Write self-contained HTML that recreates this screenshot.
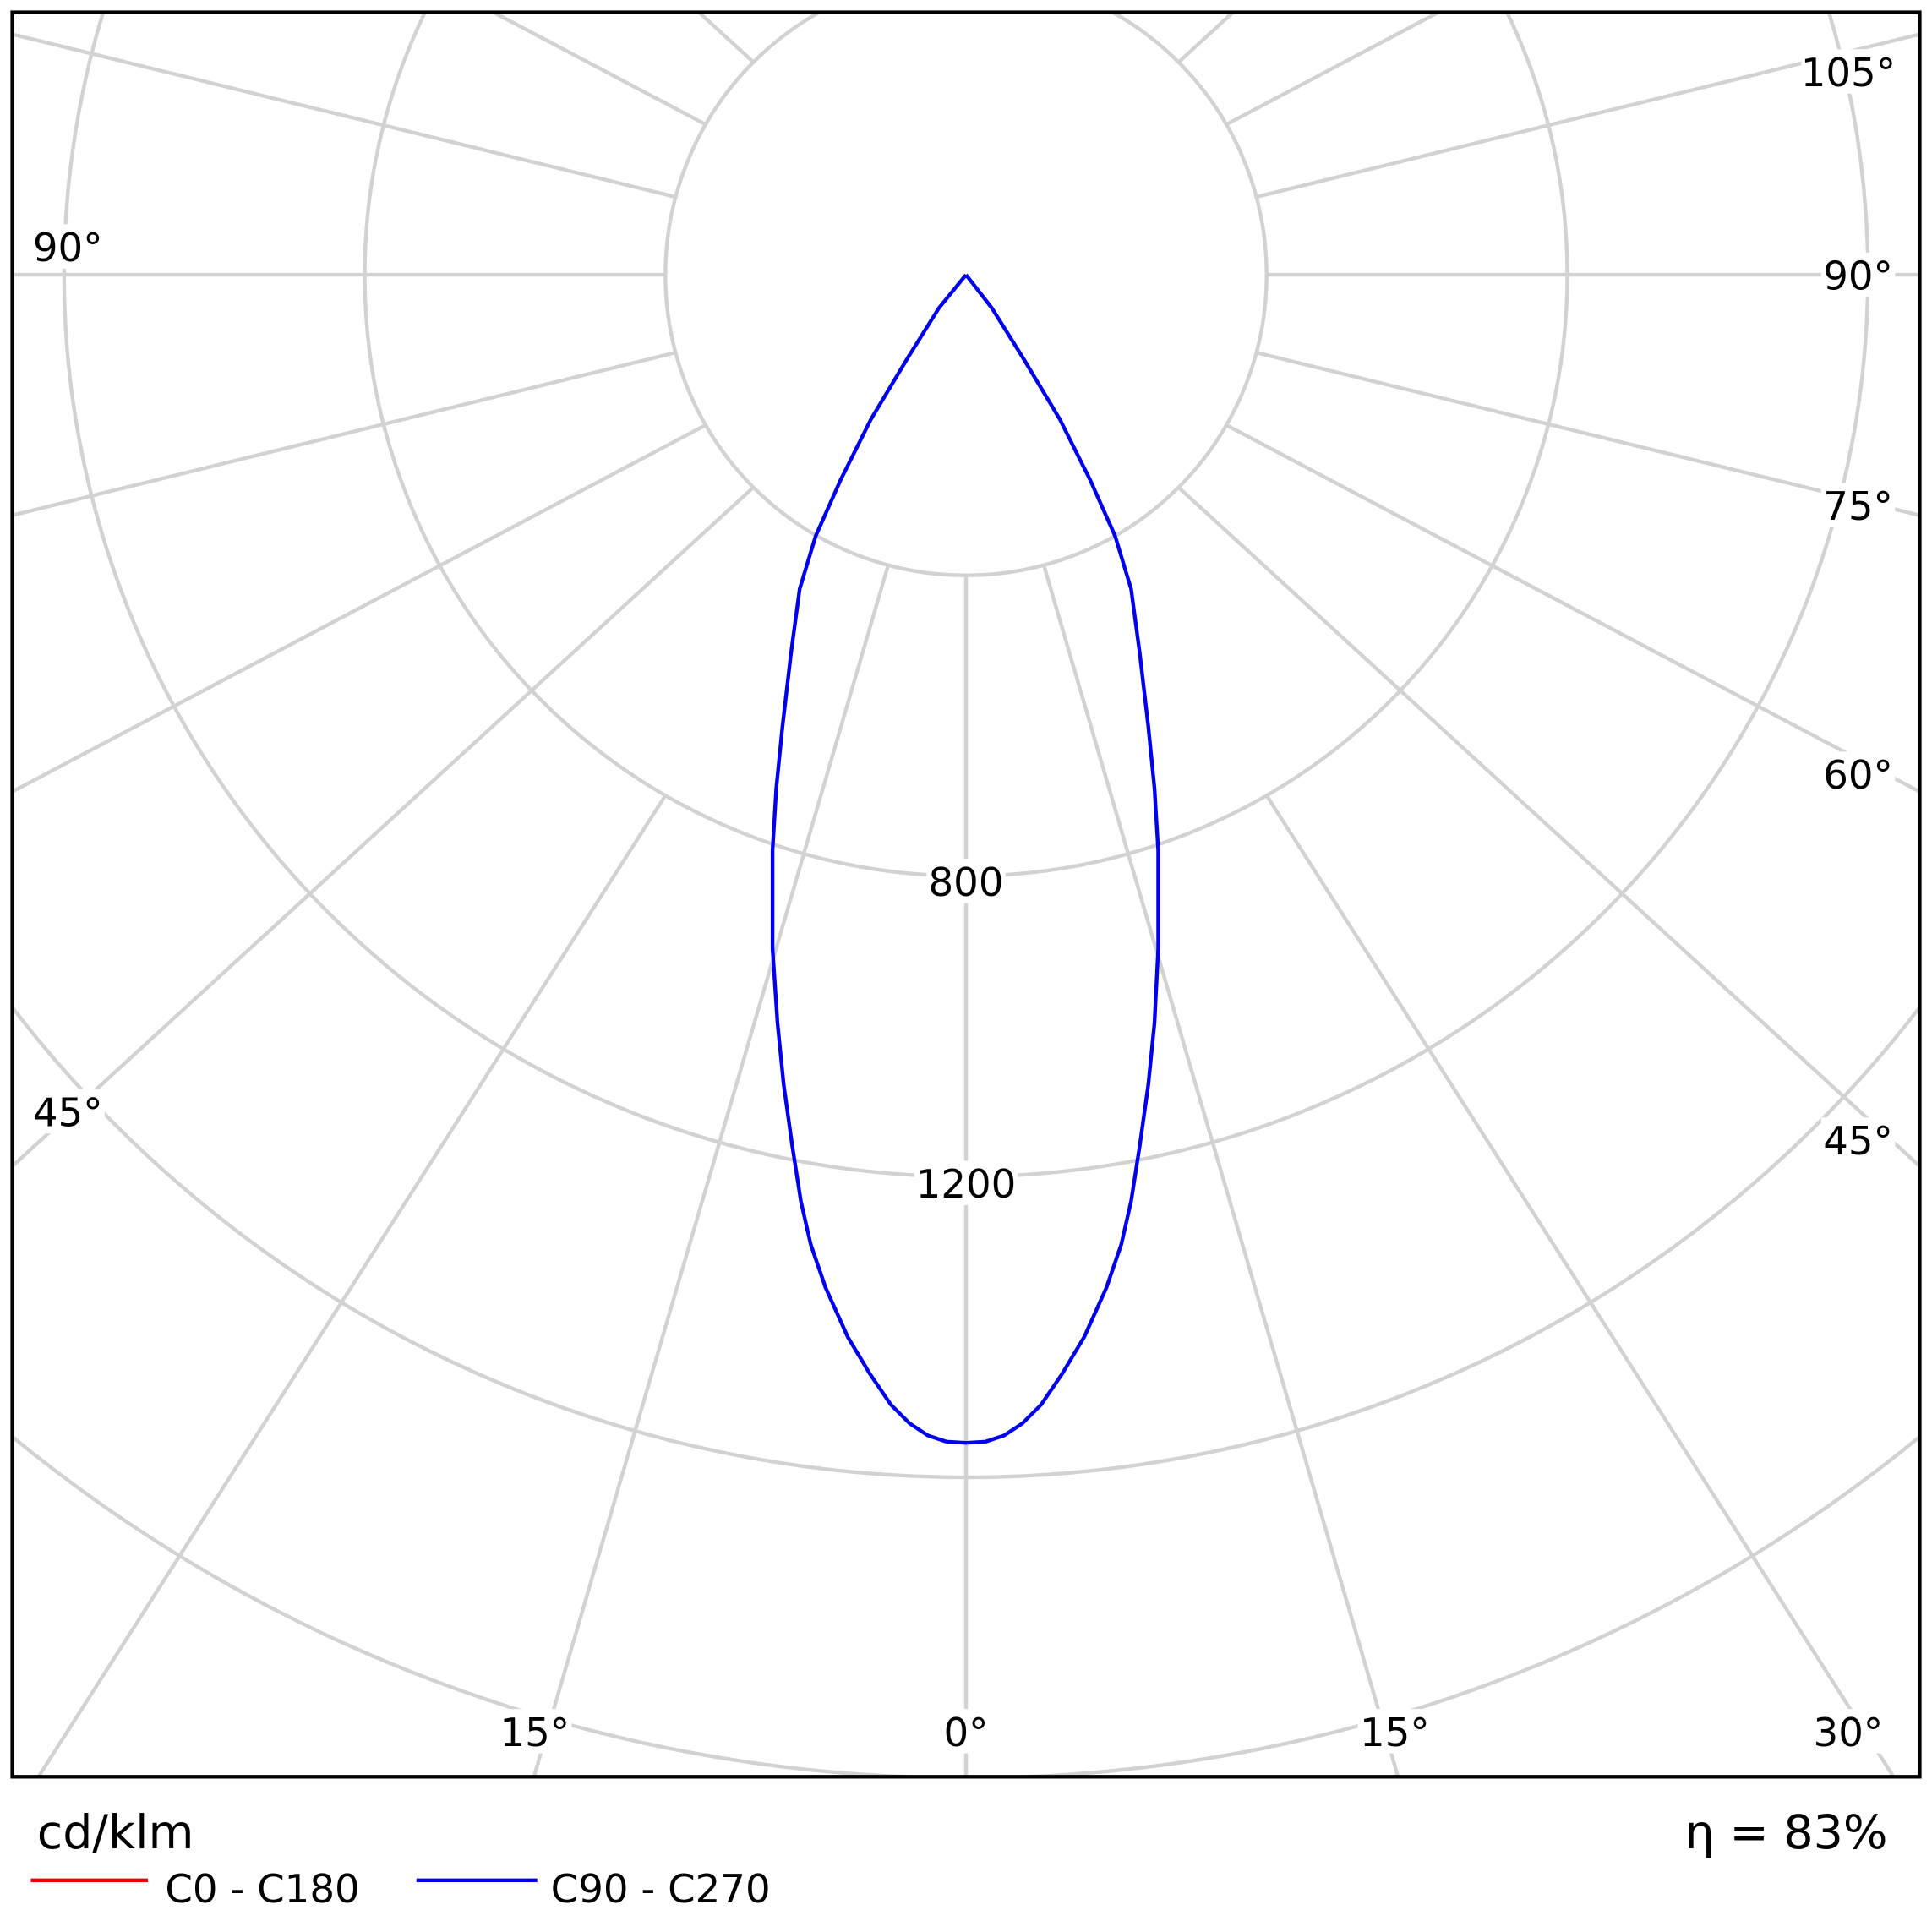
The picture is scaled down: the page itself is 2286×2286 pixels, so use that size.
<!DOCTYPE html>
<html><head><meta charset="utf-8"><style>html,body{margin:0;padding:0;background:#fff;overflow:hidden;width:2286px;height:2286px}svg{display:block}</style></head>
<body>
<svg width="2286" height="2286" viewBox="0 0 1568 1568" xmlns="http://www.w3.org/2000/svg" font-family="'DejaVu Sans','Liberation Sans',sans-serif">
<defs><clipPath id="c"><rect x="10" y="10" width="1548" height="1432"/></clipPath></defs>
<rect width="1568" height="1568" fill="#fff"/>
<g clip-path="url(#c)" stroke="#d2d2d2" stroke-width="3" fill="none">
<circle cx="784" cy="223" r="244"/>
<circle cx="784" cy="223" r="488"/>
<circle cx="784" cy="223" r="732"/>
<circle cx="784" cy="223" r="976"/>
<circle cx="784" cy="223" r="1220"/>
</g>
<g clip-path="url(#c)" stroke="#d2d2d2" stroke-width="3" id="rays"></g>
<script>
(function(){var g=document.getElementById('rays'),ns='http://www.w3.org/2000/svg';
for(var a=0;a<=180;a+=15){for(var s=-1;s<=1;s+=2){if(a==0&&s==1)continue;if(a==180&&s==1)continue;
var r0=(a==30)?488:244;var t=a*Math.PI/180;var sx=s*Math.sin(t),sy=Math.cos(t);
var dx=sx*1.08,dy=sy;var n=Math.sqrt(dx*dx+dy*dy);dx/=n;dy/=n;
var l=document.createElementNS(ns,'line');l.setAttribute('x1',784+sx*r0);l.setAttribute('y1',223+sy*r0);
l.setAttribute('x2',784+dx*2000);l.setAttribute('y2',223+dy*2000);g.appendChild(l);}}})();
</script>
<g font-size="32" text-anchor="middle" fill="#000">
<g fill="#fff"><rect x="752" y="697" width="64" height="36"/><rect x="742" y="942" width="84" height="36"/>
<rect x="1462" y="40" width="78" height="36"/><rect x="1478" y="205" width="60" height="36"/><rect x="1478" y="392" width="60" height="36"/><rect x="1478" y="610" width="60" height="36"/><rect x="1478" y="907" width="60" height="36"/><rect x="1470" y="1387" width="60" height="36"/><rect x="1102" y="1387" width="60" height="36"/><rect x="762" y="1387" width="44" height="36"/><rect x="404" y="1387" width="60" height="36"/><rect x="25" y="884" width="60" height="36"/><rect x="25" y="182" width="60" height="36"/></g>
<text x="784" y="727">800</text><text x="784" y="972">1200</text>
<text x="1500" y="70">105°</text><text x="1508" y="235">90°</text><text x="1508" y="422">75°</text><text x="1508" y="640">60°</text><text x="1508" y="937">45°</text><text x="1500" y="1417">30°</text><text x="1132" y="1417">15°</text><text x="784" y="1417">0°</text><text x="434" y="1417">15°</text><text x="55" y="914">45°</text><text x="55" y="212">90°</text>
</g>
<polyline fill="none" stroke="#0000ee" stroke-width="3" stroke-linejoin="round" points="784,223 805,250 830,290 860,340 885,390 905,435 918,478 925,530 932,590 937,640 940,690 940,770 937,830 932,880 925,930 918,975 910,1010 898,1045 880,1085 862,1115 845,1140 830,1155 815,1165 800,1170 784,1171 768,1170 753,1165 738,1155 723,1140 706,1115 688,1085 670,1045 658,1010 650,975 643,930 636,880 631,830 627,770 627,690 630,640 635,590 642,530 649,478 662,435 682,390 707,340 737,290 762,250 784,223"/>
<rect x="10" y="10" width="1548" height="1432" fill="none" stroke="#000" stroke-width="3"/>
<text x="30" y="1500" font-size="38">cd/klm</text>
<text x="1532" y="1500" font-size="38" text-anchor="end">η = 83%</text>
<line x1="25" y1="1526" x2="120" y2="1526" stroke="#ee0000" stroke-width="3"/>
<text x="134" y="1544" font-size="32">C0 - C180</text>
<line x1="338" y1="1526" x2="436" y2="1526" stroke="#0000ee" stroke-width="3"/>
<text x="447" y="1544" font-size="32">C90 - C270</text>
</svg>
</body></html>
